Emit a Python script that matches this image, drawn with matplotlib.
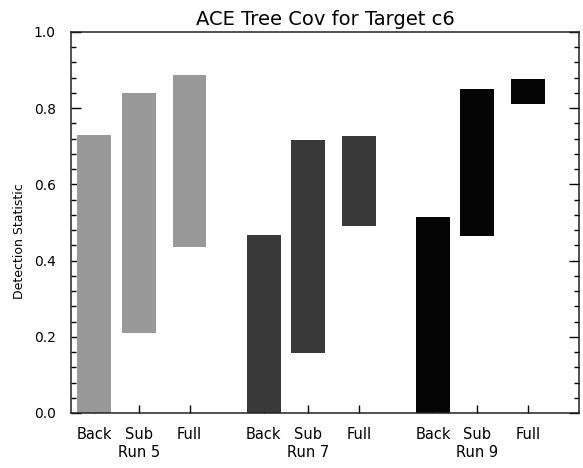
import matplotlib
matplotlib.use("Agg")
import matplotlib.pyplot as plt
from matplotlib.ticker import MultipleLocator
import numpy as np

# Detection statistic ranges (low/high) per run and method
runs = ["Run 5", "Run 7", "Run 9"]
methods = ["Back", "Sub", "Full"]
run5_low = [0.0, 0.211, 0.437]
run5_high = [0.730, 0.839, 0.886]
run7_low = [0.0, 0.157, 0.491]
run7_high = [0.467, 0.717, 0.727]
run9_low = [0.0, 0.465, 0.811]
run9_high = [0.514, 0.851, 0.877]
run_colors = ["#999999", "#393939", "#050505"]

lows = [run5_low, run7_low, run9_low]
highs = [run5_high, run7_high, run9_high]

# x layout: each run occupies 4 units, methods at fixed offsets inside
method_offsets = np.array([0.55, 1.6, 2.8])
group_step = 4.0
bar_width = 0.8

plt.rcParams["font.family"] = ["DejaVu Sans"]

fig = plt.figure(figsize=(5.83, 4.68), dpi=100)
ax = fig.add_axes([71 / 583, 55 / 468, 508 / 583, 381 / 468])

tick_pos = []
tick_lab = []
for g, (lo, hi, col) in enumerate(zip(lows, highs, run_colors)):
    xs = g * group_step + method_offsets
    lo = np.array(lo)
    hi = np.array(hi)
    ax.bar(xs, hi - lo, bottom=lo, width=bar_width, color=col,
           edgecolor="none", zorder=2)
    tick_pos.extend(xs)
    tick_lab.extend(methods)
    ax.annotate(runs[g], xy=(xs[1], 0), xycoords=("data", "axes fraction"),
                xytext=(0, -28.5), textcoords="offset points",
                ha="center", va="center", fontsize=10.5, color="black")

ax.set_xlim(0, 12)
ax.set_ylim(0, 1.0)

ax.set_xticks(tick_pos)
ax.set_xticklabels(tick_lab, fontsize=10.5)
ax.tick_params(axis="x", direction="in", length=6, width=1,
               top=False, bottom=True, pad=10)

ax.yaxis.set_major_locator(MultipleLocator(0.2))
ax.yaxis.set_minor_locator(MultipleLocator(0.04))
ax.set_yticklabels([f"{v:.1f}" for v in ax.get_yticks()], fontsize=10)
ax.tick_params(axis="y", which="major", direction="in", length=7, width=1,
               left=True, right=True, pad=11)
ax.tick_params(axis="y", which="minor", direction="in", length=3.5, width=1,
               left=True, right=True)

for s in ax.spines.values():
    s.set_linewidth(1.1)
    s.set_color("#222222")

ax.set_ylabel("Detection Statistic", fontsize=9)
ax.yaxis.set_label_coords(-0.088, 0.45)
ax.set_title("ACE Tree Cov for Target c6", fontsize=14, pad=5)

fig.savefig("out.png", dpi=100)
